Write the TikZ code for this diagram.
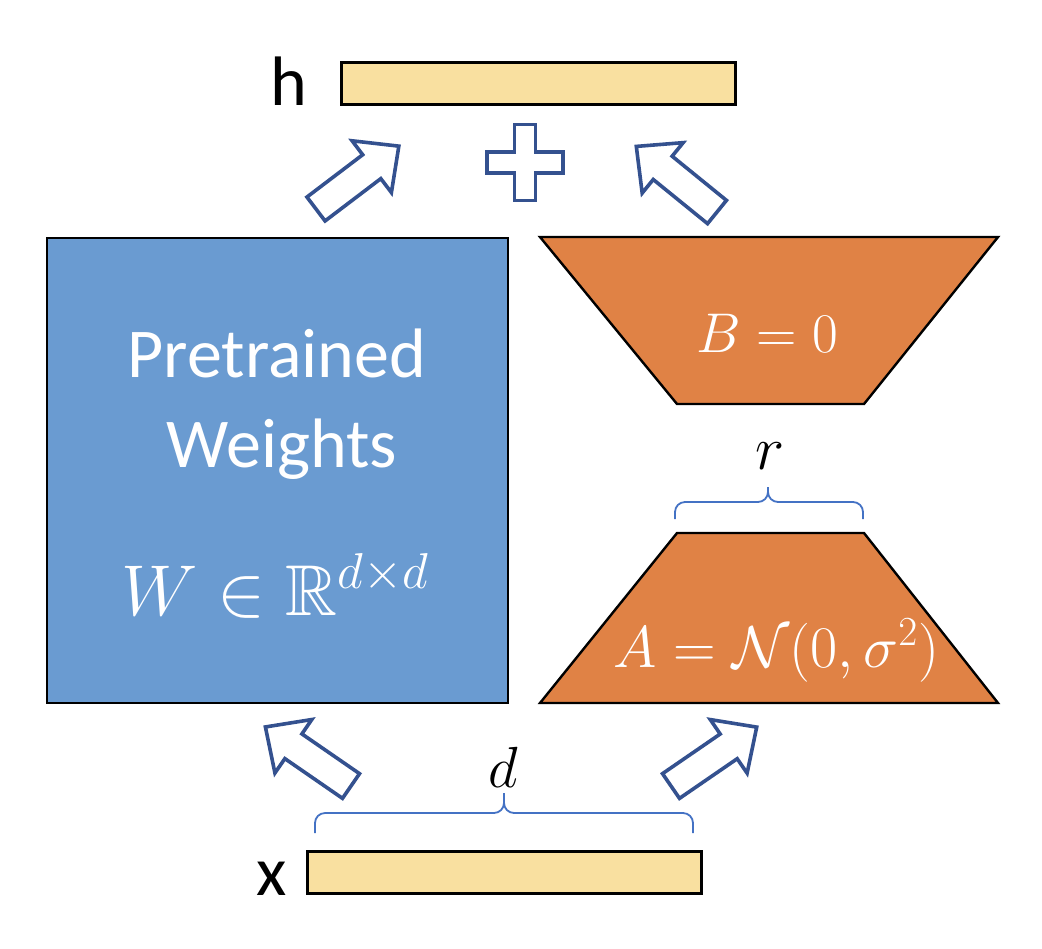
\documentclass[tikz,border=0pt]{standalone}
\usepackage{fix-cm}
\usepackage{amssymb}
\usepackage[no-math]{fontspec}
\setmainfont{Carlito}
\usetikzlibrary{positioning}

\definecolor{weightblue}{HTML}{6A9BD1}
\definecolor{loraorange}{HTML}{E08245}
\definecolor{vecyellow}{HTML}{F9E0A0}
\definecolor{arrowblue}{HTML}{34518F}
\definecolor{braceblue}{HTML}{4472C4}

\begin{document}
\begin{tikzpicture}[
      x=0.5pt, y=-0.5pt,
      weights/.style={rectangle, draw=black, line width=1.2pt, fill=weightblue,
                      minimum width=230.5pt, minimum height=232.5pt},
      vecbar/.style={rectangle, draw=black, line width=1.5pt, fill=vecyellow,
                     minimum width=197pt, minimum height=21pt},
      lowrank/.style={draw=black, line width=1.2pt, fill=loraorange, line join=miter},
      fatarrow/.style={draw=arrowblue, line width=1.8pt, fill=white, line join=miter},
      dimbrace/.style={draw=braceblue, line width=0.9pt, rounded corners=5pt},
      veclabel/.style={anchor=base, font=\fontsize{35}{40}\selectfont},
      wlabel/.style={anchor=base, text=white, font=\fontsize{35}{42}\selectfont},
      mathlabel/.style={anchor=base, text=white}
    ]
    \useasboundingbox (0,0) rectangle (1042,948);

    % input and output vectors
    \node[vecbar] (h) at (538.5,83) {};
    \node[vecbar] (x) at (504,872.5) {};
    \node[veclabel] (hlabel) at (289,105) {h};
    \node[veclabel] (xlabel) at (271.5,895) {x};

    % frozen weights
    \node[weights] (W) at (277.5,470.5) {};
    \node[wlabel] (pre) at (277,377) {Pretrained};
    \node[wlabel] (wts) at (282,467) {Weights};
    \node[mathlabel, font=\fontsize{36}{42}\selectfont] (wdim) at (275.5,615)
         {$W \in \mathbb{R}^{d\times d}$};

    % low-rank update
    \draw[lowrank] (540,237) -- (998,237) -- (864,404) -- (677,404) -- cycle;
    \node[mathlabel, font=\fontsize{28}{34}\selectfont] (B) at (767,352) {$B = 0$};
    \draw[lowrank] (677,533) -- (864,533) -- (998,703) -- (540,703) -- cycle;
    \node[mathlabel, font=\fontsize{29.5}{34}\selectfont] (A) at (776.5,667)
         {$A = \mathcal{N}(0,\sigma^2)$};

    % dimensions
    \draw[dimbrace] (675,519) |- (768,502) -- (768,487);
    \draw[dimbrace] (863,519) |- (768,502) -- (768,487);
    \node[anchor=base, font=\fontsize{31}{36}\selectfont] (r) at (770,469) {$r$};
    \draw[dimbrace] (315,833) |- (504,813) -- (504,793);
    \draw[dimbrace] (693,833) |- (504,813) -- (504,793);
    \node[anchor=base, font=\fontsize{29}{35}\selectfont] (d) at (503,787) {$d$};

    % hollow arrows
    \foreach \px/\py/\ang in {316/209/37.2, 717/212/140.9, 351/786/145.4, 671/786/34.5}
      \draw[fatarrow, shift={(\px,\py)}, rotate=\ang]
        (0,15) -- (70,15) -- (70,32.5) -- (104,0) -- (70,-32.5) -- (70,-15) -- (0,-15) -- cycle;

    % plus
    \draw[fatarrow, shift={(525,162.5)}]
      (-10.5,-38) -- (10.5,-38) -- (10.5,-10.5) -- (38,-10.5) -- (38,10.5) -- (10.5,10.5)
      -- (10.5,38) -- (-10.5,38) -- (-10.5,10.5) -- (-38,10.5) -- (-38,-10.5) -- (-10.5,-10.5) -- cycle;
  \end{tikzpicture}
\end{document}
